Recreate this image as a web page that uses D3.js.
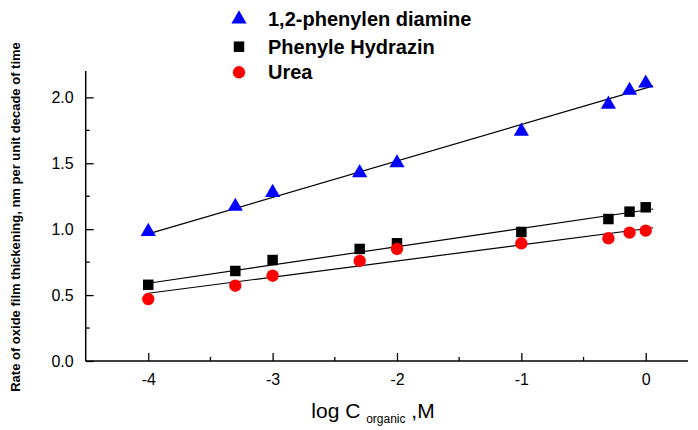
<!DOCTYPE html>
<html><head><meta charset="utf-8">
<script src="https://cdn.jsdelivr.net/npm/d3@7"></script>
<style>body{margin:0;background:#fff}svg{display:block}text{font-family:"Liberation Sans",Arial,sans-serif}</style>
</head><body>
<script>
const xValues = [-4, -3.3, -3, -2.3, -2, -1, -0.3, -0.13, 0];
const diamine = [0.99, 1.18, 1.285, 1.435, 1.51, 1.75, 1.955, 2.06, 2.115];
const hydrazin = [0.578, 0.683, 0.766, 0.85, 0.893, 0.979, 1.077, 1.133, 1.166];
const urea = [0.47, 0.571, 0.647, 0.759, 0.85, 0.893, 0.931, 0.974, 0.989];
const fitX = [-4, 0.06];
const diamineFit = [0.964, 2.087];
const hydrazinFit = [0.59, 1.153];
const ureaFit = [0.514, 1.011];
const xTicks = [-4, -3, -2, -1, 0];
const yTicks = [0.0, 0.5, 1.0, 1.5, 2.0];
const seriesNames = ["1,2-phenylen diamine", "Phenyle Hydrazin", "Urea"];

const W = 698, H = 430;
const svg = d3.select("body").append("svg").attr("width", W).attr("height", H);
const x = d3.scaleLinear().domain([-4.503, 0.34]).range([85.7, 688]);
const y = d3.scaleLinear().domain([0, 2.2]).range([361, 71]);

// axes
const xAxis = d3.axisBottom(x).tickValues(xTicks).tickSize(-8).tickPadding(13).tickFormat(d => String(d));
const gx = svg.append("g").attr("transform", `translate(0,${y(0)})`).call(xAxis);
const yAxis = d3.axisLeft(y).tickValues(yTicks).tickSize(-8).tickPadding(12).tickFormat(d3.format(".1f"));
const gy = svg.append("g").attr("transform", `translate(${x.range()[0]},0)`).call(yAxis);
[gx, gy].forEach(g => {
  g.select(".domain").attr("stroke", "#000").attr("stroke-width", 1.5);
  g.selectAll(".tick line").attr("stroke", "#000").attr("stroke-width", 1.3);
  g.selectAll(".tick text").attr("font-size", 16).attr("fill", "#000").attr("font-family", "Liberation Sans, Arial, sans-serif");
});
gx.select(".domain").attr("d", `M${x.range()[0]},0H${x.range()[1]}`);
gy.select(".domain").attr("d", `M0,${y.range()[0]}V${y.range()[1]}`);
// minor ticks
const xMinor = [-3.5, -2.5, -1.5, -0.5];
gx.selectAll(".minor").data(xMinor).join("line").attr("class", "minor")
  .attr("x1", d => x(d)).attr("x2", d => x(d)).attr("y1", 0).attr("y2", -4)
  .attr("stroke", "#000").attr("stroke-width", 1.3);
const yMinor = [0.25, 0.75, 1.25, 1.75];
gy.selectAll(".minor").data(yMinor).join("line").attr("class", "minor")
  .attr("y1", d => y(d)).attr("y2", d => y(d)).attr("x1", 0).attr("x2", 4)
  .attr("stroke", "#000").attr("stroke-width", 1.3);

// fit lines
const fits = [diamineFit, hydrazinFit, ureaFit];
fits.forEach(f => {
  svg.append("line").attr("x1", x(fitX[0])).attr("y1", y(f[0]))
    .attr("x2", x(fitX[1])).attr("y2", y(f[1]))
    .attr("stroke", "#000").attr("stroke-width", 1.2);
});

const tri = d3.symbol().type(d3.symbolTriangle).size(100);
const sq = d3.symbol().type(d3.symbolSquare).size(110);
const circ = d3.symbol().type(d3.symbolCircle).size(120);

svg.append("g").selectAll("path").data(xValues.map((v, i) => [v, diamine[i]])).join("path")
  .attr("d", tri).attr("transform", d => `translate(${x(d[0])},${y(d[1]) + 1})`).attr("fill", "#0000ff");
svg.append("g").selectAll("path").data(xValues.map((v, i) => [v, hydrazin[i]])).join("path")
  .attr("d", sq).attr("transform", d => `translate(${x(d[0])},${y(d[1])})`).attr("fill", "#000");
svg.append("g").selectAll("path").data(xValues.map((v, i) => [v, urea[i]])).join("path")
  .attr("d", circ).attr("transform", d => `translate(${x(d[0])},${y(d[1])})`).attr("fill", "#ff0000");

// legend
const legend = svg.append("g");
const legSyms = [[tri, "#0000ff", 19], [sq, "#000", 46.7], [circ, "#ff0000", 72.3]];
legSyms.forEach((s, i) => {
  legend.append("path").attr("d", s[0]).attr("fill", s[1]).attr("transform", `translate(239,${s[2]})`);
  legend.append("text").attr("x", 268).attr("y", s[2] + 7).attr("font-size", 20).attr("font-weight", "bold")
    .attr("fill", "#000").text(seriesNames[i]);
});

// axis titles
const xt = svg.append("text").attr("x", 373).attr("y", 418).attr("text-anchor", "middle").attr("font-size", 21).attr("fill", "#000");
xt.append("tspan").text("log C ");
xt.append("tspan").attr("font-size", 12).attr("dy", 5).text("organic");
xt.append("tspan").attr("dy", -5).text(" ,M");

svg.append("text").attr("transform", "translate(20,217) rotate(-90)").attr("text-anchor", "middle")
  .attr("font-size", 13).attr("font-weight", "bold").attr("fill", "#000")
  .text("Rate of oxide film thickening, nm per unit decade of time");
</script>
</body></html>
